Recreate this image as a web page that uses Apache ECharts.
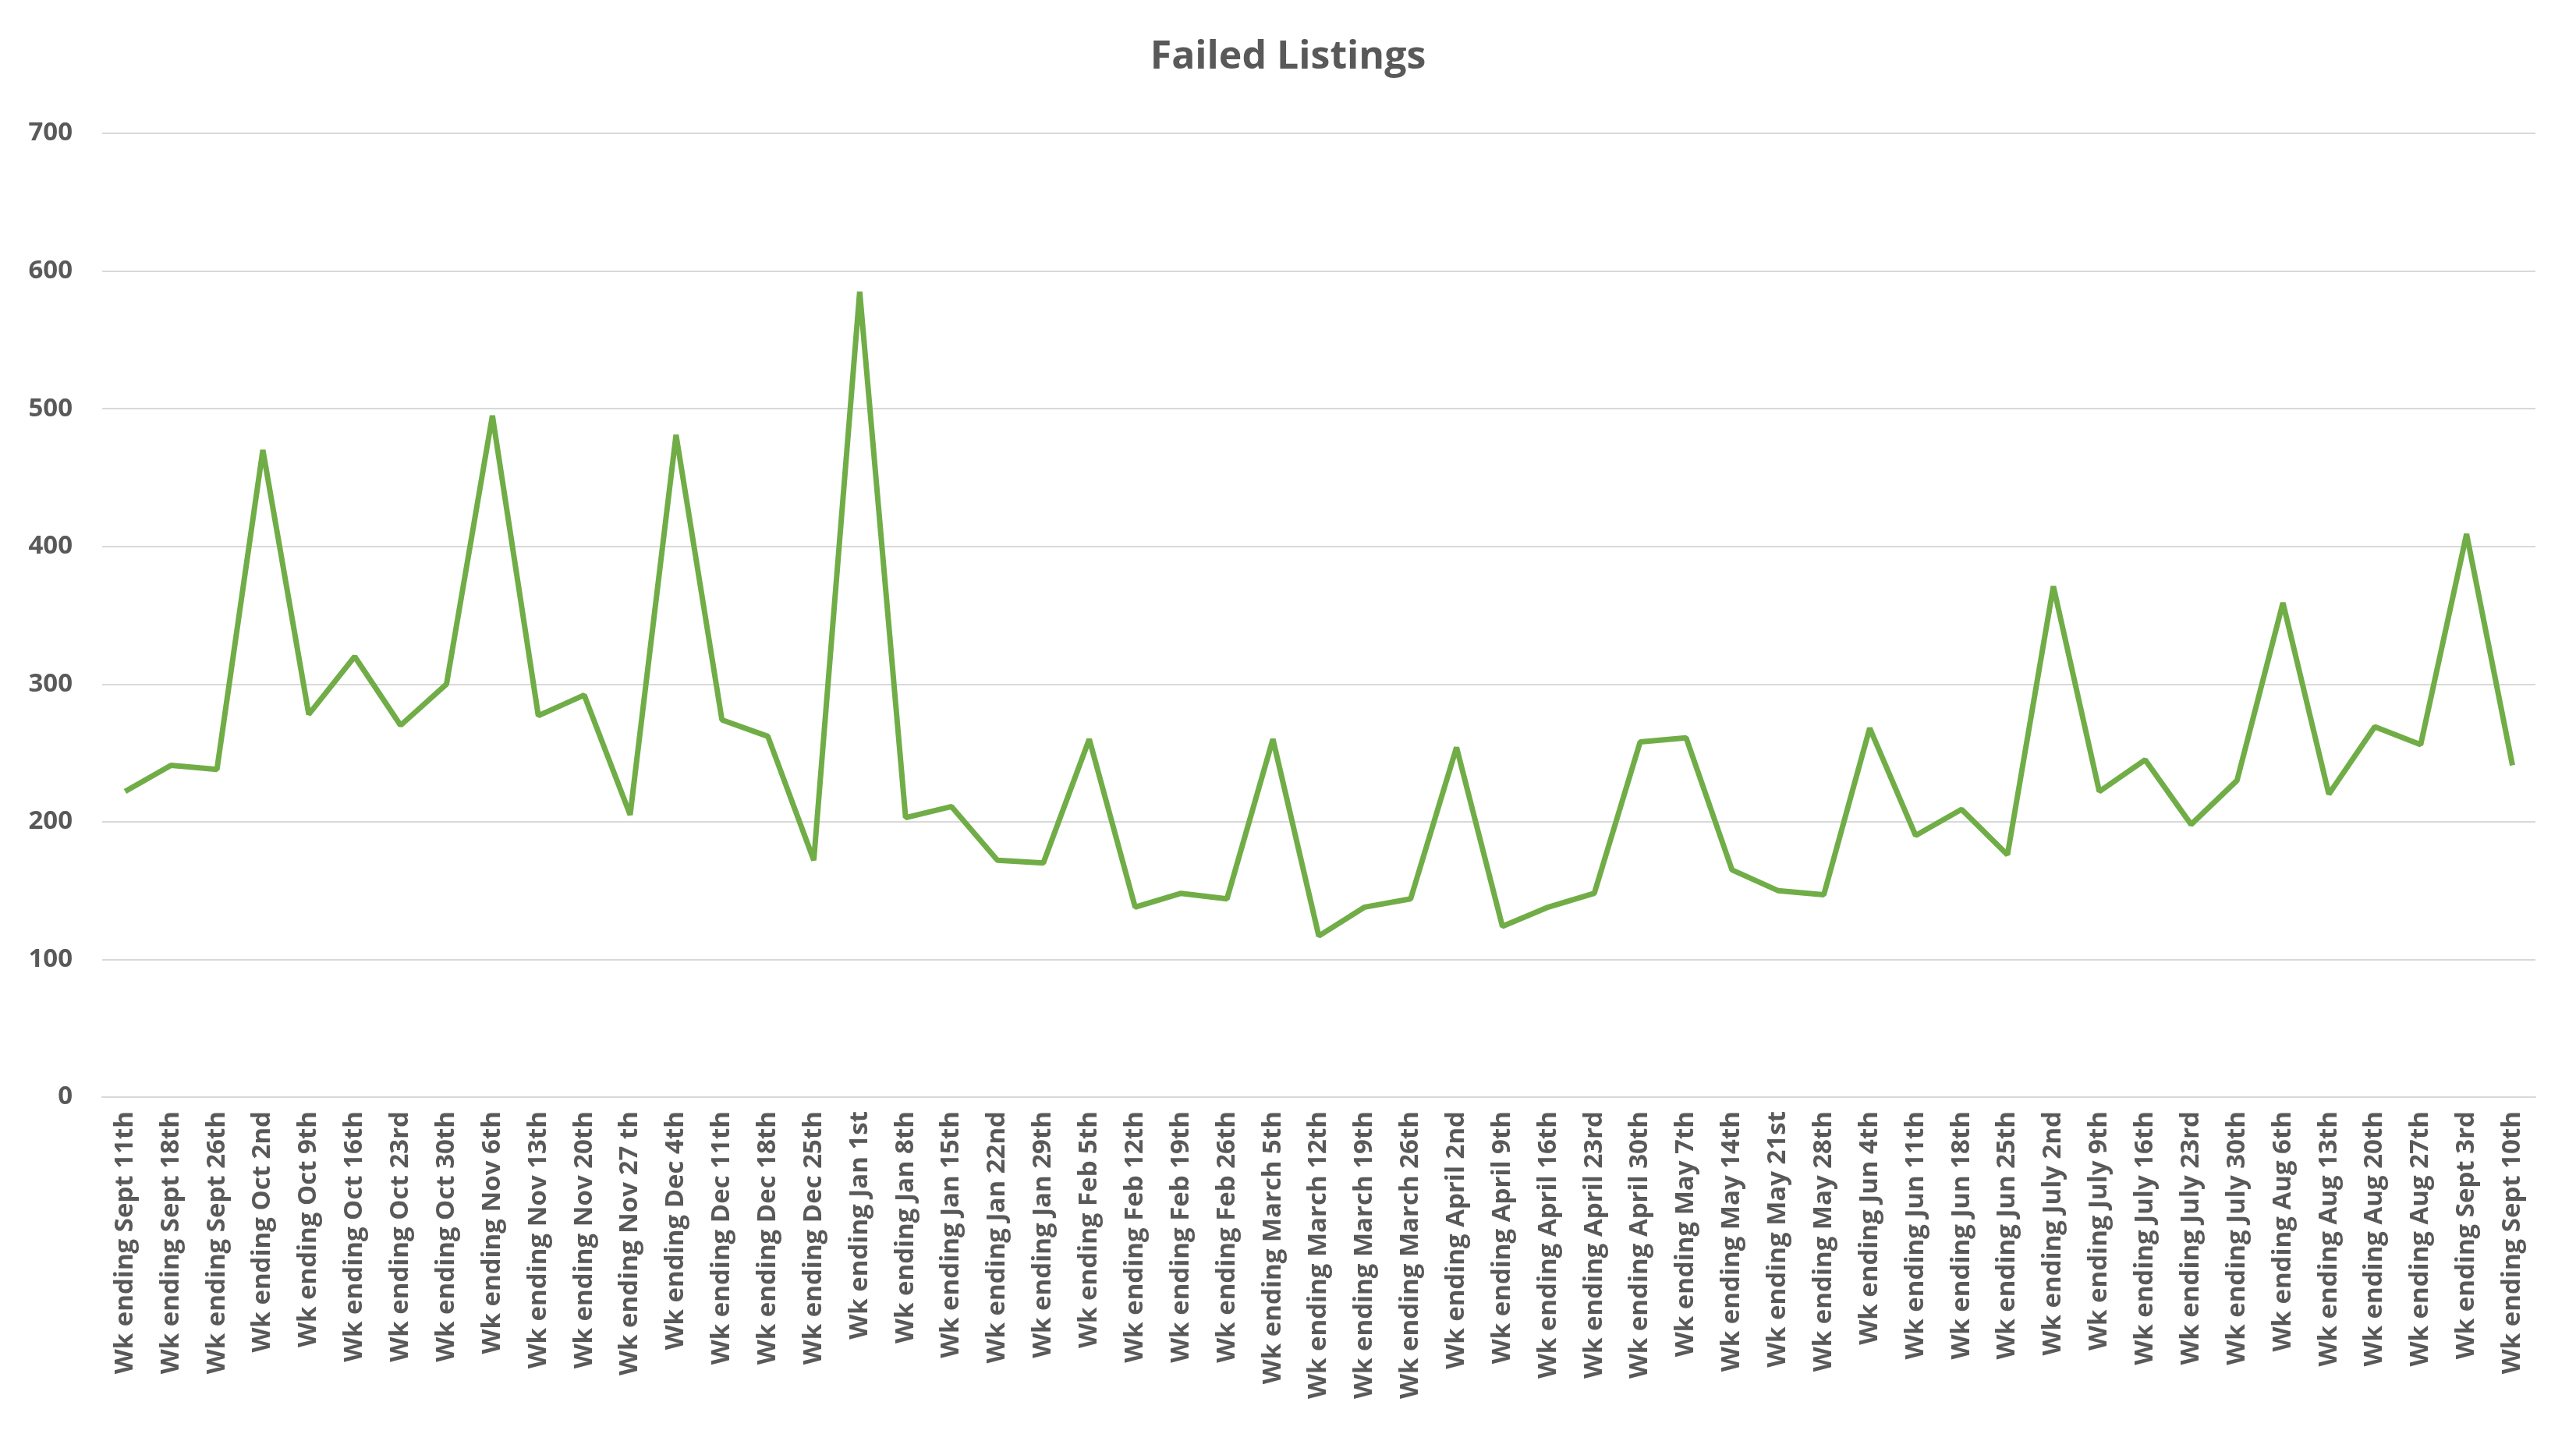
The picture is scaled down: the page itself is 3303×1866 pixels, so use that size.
<!DOCTYPE html>
<html><head><meta charset="utf-8">
<script src="https://cdn.jsdelivr.net/npm/echarts@6/dist/echarts.min.js"></script>
<style>html,body{margin:0;padding:0;background:#fff}#c{width:3303px;height:1866px}</style>
</head><body><div id="c"></div>
<script>
const categories = ["Wk ending Sept 11th","Wk ending Sept 18th","Wk ending Sept 26th","Wk ending Oct 2nd","Wk ending Oct 9th","Wk ending Oct 16th","Wk ending Oct 23rd","Wk ending Oct 30th","Wk ending Nov 6th","Wk ending Nov 13th","Wk ending Nov 20th","Wk ending Nov 27 th","Wk ending Dec 4th","Wk ending Dec 11th","Wk ending Dec 18th","Wk ending Dec 25th","Wk ending Jan 1st","Wk ending Jan 8th","Wk ending Jan 15th","Wk ending Jan 22nd","Wk ending Jan 29th","Wk ending Feb 5th","Wk ending Feb 12th","Wk ending Feb 19th","Wk ending Feb 26th","Wk ending March 5th","Wk ending March 12th","Wk ending March 19th","Wk ending March 26th","Wk ending April 2nd","Wk ending April 9th","Wk ending April 16th","Wk ending April 23rd","Wk ending April 30th","Wk ending May 7th","Wk ending May 14th","Wk ending May 21st","Wk ending May 28th","Wk ending Jun 4th","Wk ending Jun 11th","Wk ending Jun 18th","Wk ending Jun 25th","Wk ending July 2nd","Wk ending July 9th","Wk ending July 16th","Wk ending July 23rd","Wk ending July 30th","Wk ending Aug 6th","Wk ending Aug 13th","Wk ending Aug 20th","Wk ending Aug 27th","Wk ending Sept 3rd","Wk ending Sept 10th"];
const failedListings = [222,241,238,470,278,320,270,300,495,277,292,205,481,274,262,172,585,203,211,172,170,260,138,148,144,260,117,138,144,254,124,138,148,258,261,165,150,147,268,190,209,176,371,222,245,198,230,359,220,269,256,409,241];
const chart = echarts.init(document.getElementById('c'));
const txt = '#595959';
chart.setOption({
  animation:false,
  title:{text:'Failed Listings',left:'center',top:44,textStyle:{fontFamily:'Open Sans',fontSize:50,fontWeight:'bold',color:txt}},
  grid:{left:131,right:52,top:171,bottom:459,containLabel:false},
  xAxis:{type:'category',data:categories,boundaryGap:true,
    axisLine:{lineStyle:{color:'#d9d9d9',width:2}},axisTick:{show:false},
    axisLabel:{rotate:90,interval:0,fontFamily:'Open Sans',fontSize:33,fontWeight:'bold',color:txt,margin:18}},
  yAxis:{type:'value',min:0,max:700,interval:100,
    axisLine:{show:false},axisTick:{show:false},
    splitLine:{lineStyle:{color:'#d9d9d9',width:2}},
    axisLabel:{fontFamily:'Open Sans',fontSize:33,fontWeight:'bold',color:txt,margin:38}},
  series:[{type:'line',data:failedListings,symbol:'none',lineStyle:{color:'#70AD47',width:7},itemStyle:{color:'#70AD47'}}]
});
</script></body></html>
